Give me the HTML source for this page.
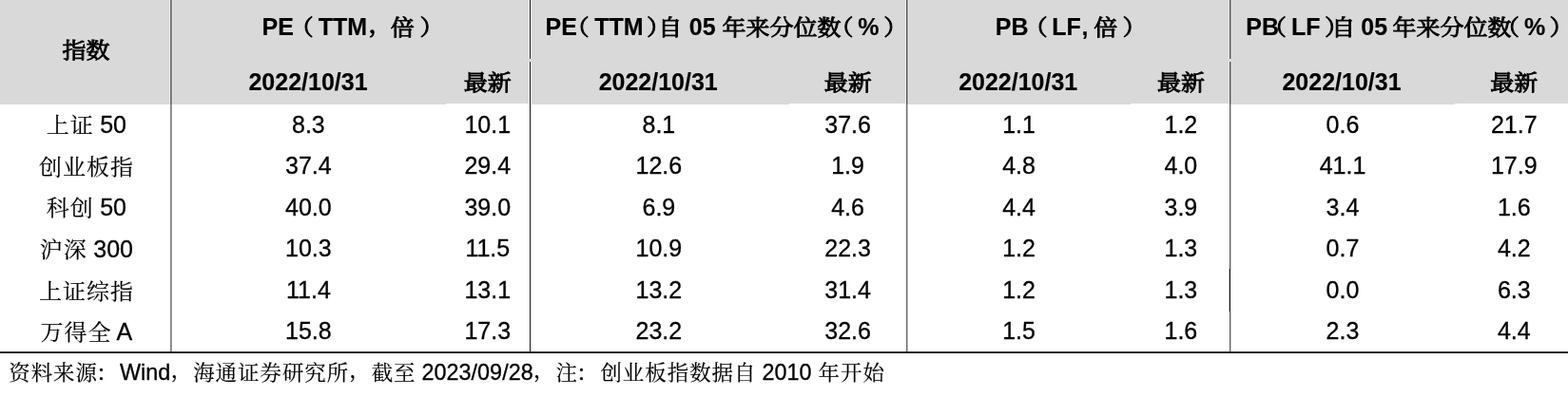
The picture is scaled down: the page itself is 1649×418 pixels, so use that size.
<!DOCTYPE html>
<html lang="zh-CN">
<head>
<meta charset="utf-8">
<title>指数估值</title>
<style>
html,body{margin:0;padding:0;background:#fff;}
body{width:1649px;height:418px;position:relative;overflow:hidden;font-family:"Liberation Sans", "Noto Serif CJK SC", sans-serif;color:#000;font-size:25px;}
.bg{position:absolute;left:0;top:0;width:1649px;height:109px;background:#d9d9d9;}
.bs{position:absolute;top:109px;height:1px;background:#d9d9d9;}
.px{position:absolute;width:1px;}
.hl{position:absolute;left:0;width:1649px;height:1px;}
.t{position:absolute;white-space:nowrap;line-height:0;height:0;width:600px;text-align:center;-webkit-text-stroke:0.3px #000;}
.hd{position:absolute;left:0;height:0;line-height:0;font-weight:bold;-webkit-text-stroke:0.15px #000;}
.hd>span{position:absolute;top:0;white-space:pre;}
.c{display:inline-block;position:relative;top:0.0px;font-size:0.96em;letter-spacing:0.0417em;margin-left:0.0208em;margin-right:-0.0208em;-webkit-text-stroke:0.15px #000;transform:scaleY(0.96);transform-origin:50% 0;}
.b{font-weight:bold;-webkit-text-stroke:0.15px #000;}
.b .c,.hd .c{top:1.0px;font-weight:normal;font-size:1.0em;letter-spacing:0.0000em;margin-left:0.0000em;margin-right:-0.0000em;-webkit-text-stroke:1.0px #000;transform:scaleY(0.92);}
.hd .c{top:0.5px;}
.c.p{top:-2.0px;}
.ft .c{top:0px;letter-spacing:0.0437em;}
.ft .c.p{top:-3px;}
.ft .c.q{left:-1.8px;-webkit-text-stroke:.6px #000;}
.ft{position:absolute;white-space:nowrap;line-height:0;height:0;font-size:23.4px;-webkit-text-stroke:0.3px #000;}
</style>
</head>
<body>
<div class="bg"></div>
<div class="bs" style="left:0px;width:469px"></div>
<div class="bs" style="left:557px;width:273px"></div>
<div class="bs" style="left:953px;width:236px"></div>
<div class="bs" style="left:1294px;width:236px"></div>
<div class="px" style="left:178px;top:0;height:110px;background:rgba(255,255,255,0.42)"></div>
<div class="px" style="left:179px;top:0;height:370px;background:rgba(0,0,0,0.5)"></div>
<div class="px" style="left:180px;top:0;height:370px;background:rgba(0,0,0,0.37)"></div>
<div class="px" style="left:181px;top:0;height:110px;background:rgba(255,255,255,0.26)"></div>
<div class="px" style="left:556px;top:0;height:62px;background:rgba(255,255,255,0.71)"></div>
<div class="px" style="left:556px;top:65px;height:45px;background:rgba(255,255,255,0.71)"></div>
<div class="px" style="left:557px;top:0;height:62px;background:rgba(0,0,0,0.93)"></div>
<div class="px" style="left:557px;top:65px;height:305px;background:rgba(0,0,0,0.93)"></div>
<div class="px" style="left:558px;top:0;height:62px;background:rgba(255,255,255,0.8)"></div>
<div class="px" style="left:558px;top:65px;height:45px;background:rgba(255,255,255,0.8)"></div>
<div class="px" style="left:557px;top:62px;height:3px;background:rgba(255,255,255,.4)"></div>
<div class="px" style="left:952px;top:0;height:110px;background:rgba(255,255,255,0.5)"></div>
<div class="px" style="left:953px;top:0;height:370px;background:rgba(0,0,0,0.6)"></div>
<div class="px" style="left:954px;top:0;height:370px;background:rgba(0,0,0,0.26)"></div>
<div class="px" style="left:955px;top:0;height:110px;background:rgba(255,255,255,0.18)"></div>
<div class="px" style="left:1292px;top:0;height:62px;background:rgba(255,255,255,0.5)"></div>
<div class="px" style="left:1292px;top:65px;height:45px;background:rgba(255,255,255,0.5)"></div>
<div class="px" style="left:1293px;top:0;height:62px;background:rgba(0,0,0,0.63)"></div>
<div class="px" style="left:1293px;top:65px;height:305px;background:rgba(0,0,0,0.63)"></div>
<div class="px" style="left:1294px;top:0;height:62px;background:rgba(0,0,0,0.23)"></div>
<div class="px" style="left:1294px;top:65px;height:305px;background:rgba(0,0,0,0.23)"></div>
<div class="px" style="left:1295px;top:0;height:62px;background:rgba(255,255,255,0.18)"></div>
<div class="px" style="left:1295px;top:65px;height:45px;background:rgba(255,255,255,0.18)"></div>
<div class="px" style="left:1293px;top:62px;height:3px;background:rgba(255,255,255,.4)"></div>
<div class="px" style="left:1292px;top:283px;height:45px;background:rgba(0,0,0,.15)"></div>
<div class="px" style="left:1293px;top:283px;height:45px;background:#000"></div>
<div class="px" style="left:1294px;top:283px;height:45px;background:#fff"></div>
<div class="hl" style="top:370px;background:rgba(0,0,0,0.8)"></div>
<div class="hl" style="top:371px;background:rgba(0,0,0,1)"></div>
<div class="t b" style="left:-209.40px;top:52px"><span class="c">指数</span></div>
<div class="hd" style="top:28px"><span style="left:275.50px">PE</span><span style="left:304.77px"><span class="c">（</span></span><span style="left:334.65px">TTM</span><span style="left:387.45px"><span class="c p">，</span></span><span style="left:410.85px"><span class="c">倍</span></span><span style="left:441.62px"><span class="c">）</span></span></div>
<div class="hd" style="top:28px"><span style="left:573.62px">PE</span><span style="left:594.78px"><span class="c">（</span></span><span style="left:625.25px">TTM</span><span style="left:680.12px"><span class="c">）</span></span><span style="left:692.35px"><span class="c">自</span></span><span style="left:717.90px"> 05 </span><span style="left:759.58px"><span class="c">年来分位数</span></span><span style="left:872.62px"><span class="c">（</span></span><span style="left:902.33px">%</span><span style="left:929.23px"><span class="c">）</span></span></div>
<div class="hd" style="top:28px"><span style="left:1046.72px">PB</span><span style="left:1076.67px"><span class="c">（</span></span><span style="left:1106.22px">LF</span><span style="left:1137.42px">, </span><span style="left:1150.30px"><span class="c">倍</span></span><span style="left:1180.53px"><span class="c">）</span></span></div>
<div class="hd" style="top:28px"><span style="left:1310.22px">PB</span><span style="left:1327.88px"><span class="c">（</span></span><span style="left:1357.88px">LF</span><span style="left:1393.05px"><span class="c">）</span></span><span style="left:1400.25px"><span class="c">自</span></span><span style="left:1424.42px"> 05 </span><span style="left:1464.45px"><span class="c">年来分位数</span></span><span style="left:1573.12px"><span class="c">（</span></span><span style="left:1603.12px">%</span><span style="left:1629.42px"><span class="c">）</span></span></div>
<div class="t b" style="left:24.00px;top:86px">2022/10/31</div>
<div class="t b" style="left:212.70px;top:86px"><span class="c">最新</span></div>
<div class="t b" style="left:392.20px;top:86px">2022/10/31</div>
<div class="t b" style="left:591.80px;top:86px"><span class="c">最新</span></div>
<div class="t b" style="left:770.70px;top:86px">2022/10/31</div>
<div class="t b" style="left:941.90px;top:86px"><span class="c">最新</span></div>
<div class="t b" style="left:1111.00px;top:86px">2022/10/31</div>
<div class="t b" style="left:1292.30px;top:86px"><span class="c">最新</span></div>
<div class="t" style="left:-209.40px;top:131px"><span class="c">上证</span> 50</div>
<div class="t" style="left:24.40px;top:131px">8.3</div>
<div class="t" style="left:212.80px;top:131px">10.1</div>
<div class="t" style="left:392.90px;top:131px">8.1</div>
<div class="t" style="left:591.60px;top:131px">37.6</div>
<div class="t" style="left:771.60px;top:131px">1.1</div>
<div class="t" style="left:941.90px;top:131px">1.2</div>
<div class="t" style="left:1112.00px;top:131px">0.6</div>
<div class="t" style="left:1292.30px;top:131px">21.7</div>
<div class="t" style="left:-209.40px;top:175px"><span class="c">创业板指</span></div>
<div class="t" style="left:24.40px;top:174px">37.4</div>
<div class="t" style="left:212.80px;top:174px">29.4</div>
<div class="t" style="left:392.90px;top:174px">12.6</div>
<div class="t" style="left:591.60px;top:174px">1.9</div>
<div class="t" style="left:771.60px;top:174px">4.8</div>
<div class="t" style="left:941.90px;top:174px">4.0</div>
<div class="t" style="left:1112.00px;top:174px">41.1</div>
<div class="t" style="left:1292.30px;top:174px">17.9</div>
<div class="t" style="left:-209.40px;top:218px"><span class="c">科创</span> 50</div>
<div class="t" style="left:24.40px;top:218px">40.0</div>
<div class="t" style="left:212.80px;top:218px">39.0</div>
<div class="t" style="left:392.90px;top:218px">6.9</div>
<div class="t" style="left:591.60px;top:218px">4.6</div>
<div class="t" style="left:771.60px;top:218px">4.4</div>
<div class="t" style="left:941.90px;top:218px">3.9</div>
<div class="t" style="left:1112.00px;top:218px">3.4</div>
<div class="t" style="left:1292.30px;top:218px">1.6</div>
<div class="t" style="left:-209.40px;top:262px"><span class="c">沪深</span> 300</div>
<div class="t" style="left:24.40px;top:261px">10.3</div>
<div class="t" style="left:212.80px;top:261px">11.5</div>
<div class="t" style="left:392.90px;top:261px">10.9</div>
<div class="t" style="left:591.60px;top:261px">22.3</div>
<div class="t" style="left:771.60px;top:261px">1.2</div>
<div class="t" style="left:941.90px;top:261px">1.3</div>
<div class="t" style="left:1112.00px;top:261px">0.7</div>
<div class="t" style="left:1292.30px;top:261px">4.2</div>
<div class="t" style="left:-209.40px;top:306px"><span class="c">上证综指</span></div>
<div class="t" style="left:24.40px;top:305px">11.4</div>
<div class="t" style="left:212.80px;top:305px">13.1</div>
<div class="t" style="left:392.90px;top:305px">13.2</div>
<div class="t" style="left:591.60px;top:305px">31.4</div>
<div class="t" style="left:771.60px;top:305px">1.2</div>
<div class="t" style="left:941.90px;top:305px">1.3</div>
<div class="t" style="left:1112.00px;top:305px">0.0</div>
<div class="t" style="left:1292.30px;top:305px">6.3</div>
<div class="t" style="left:-209.40px;top:349px"><span class="c">万得全</span> A</div>
<div class="t" style="left:24.40px;top:348px">15.8</div>
<div class="t" style="left:212.80px;top:348px">17.3</div>
<div class="t" style="left:392.90px;top:348px">23.2</div>
<div class="t" style="left:591.60px;top:348px">32.6</div>
<div class="t" style="left:771.60px;top:348px">1.5</div>
<div class="t" style="left:941.90px;top:348px">1.6</div>
<div class="t" style="left:1112.00px;top:348px">2.3</div>
<div class="t" style="left:1292.30px;top:348px">4.4</div>
<div class="ft" style="left:8.8px;top:391.89px"><span class="c">资料来源</span><span class="c q">：</span>Wind<span class="c p">，</span><span class="c">海通证券研究所</span><span class="c p">，</span><span class="c">截至</span> 2023/09/28<span class="c p">，</span><span class="c">注</span><span class="c q">：</span><span class="c">创业板指数据自</span> 2010 <span class="c">年开始</span></div>
</body>
</html>
